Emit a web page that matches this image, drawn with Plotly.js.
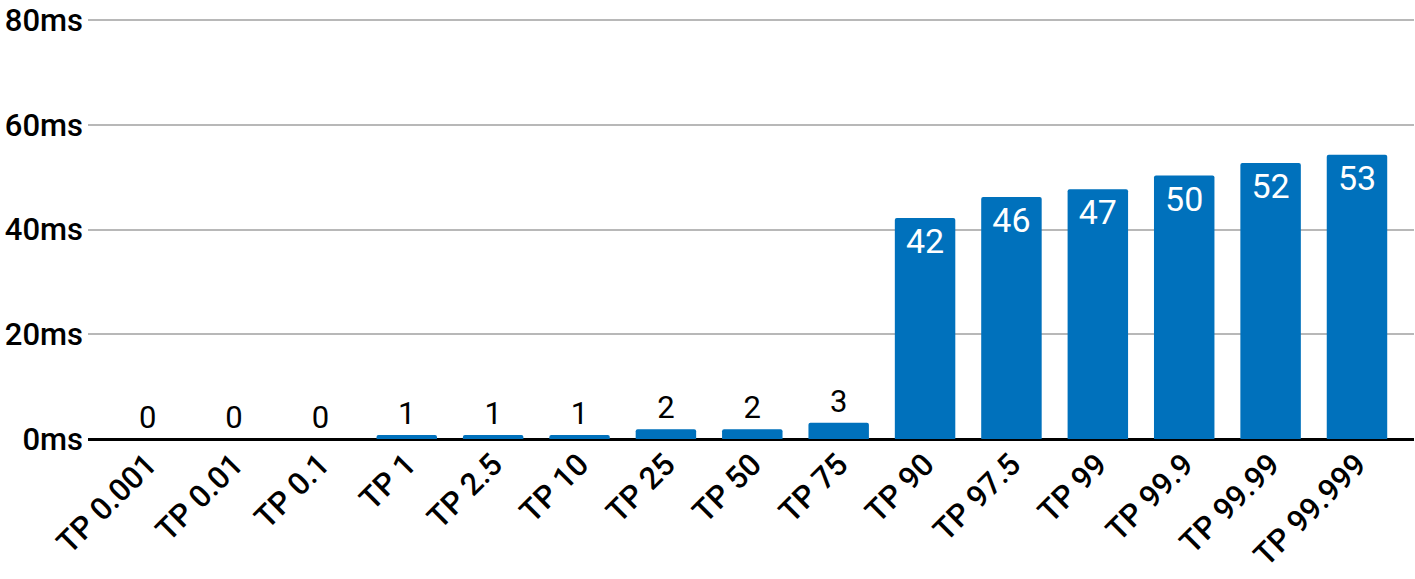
<!DOCTYPE html>
<html>
<head>
<meta charset="utf-8">
<script src="https://cdn.plot.ly/plotly-3.0.1.min.js"></script>
<style>
  html, body { margin: 0; padding: 0; background: #fff; }
  #chart { width: 1415px; height: 579px; }
</style>
</head>
<body>
<div id="chart"></div>
<script>
// percentiles on the x axis
var categories = ["TP 0.001", "TP 0.01", "TP 0.1", "TP 1", "TP 2.5", "TP 10", "TP 25",
                  "TP 50", "TP 75", "TP 90", "TP 97.5", "TP 99", "TP 99.9", "TP 99.99", "TP 99.999"];

// latency in ms (bar heights)
var latency = [0, 0, 0, 0.75, 0.75, 0.75, 1.85, 1.85, 3.1, 42.2, 46.2, 47.7, 50.3, 52.7, 54.3];

// printed labels above / inside the bars
var barLabels = ["0", "0", "0", "1", "1", "1", "2", "2", "3", "42", "46", "47", "50", "52", "53"];

// y axis ticks
var yTicks = [0, 20, 40, 60, 80];
var yTickText = yTicks.map(function (v) { return v + "ms"; });

var fontFam = "Roboto, 'Liberation Sans', sans-serif";

// tall bars carry their label inside, short ones above
var positions = latency.map(function (v) { return v > 10 ? "inside" : "outside"; });

var data = [
    {
        type: "bar",
        x: categories,
        y: latency,
        text: barLabels,
        texttemplate: "%{text}",
        textposition: positions,
        insidetextanchor: "end",
        constraintext: "none",
        cliponaxis: false,
        insidetextfont: { family: fontFam, size: 34, color: "#ffffff" },
        outsidetextfont: { family: fontFam, size: 31, color: "#000000" },
        marker: { color: "#0071bc" },
        hoverinfo: "x+y"
    }
];

var layout = {
    width: 1415,
    height: 579,
    margin: { l: 88, r: 1, t: 18, b: 140 },
    paper_bgcolor: "#ffffff",
    plot_bgcolor: "#ffffff",
    showlegend: false,
    bargap: 0.3,
    barcornerradius: 2,
    font: { family: fontFam, color: "#000000" },
    xaxis: {
        type: "category",
        range: [-0.69, 14.66],
        tickangle: -45,
        tickfont: { family: fontFam, size: 31, color: "#000000", weight: 500 },
        showgrid: false,
        showline: false,
        ticks: "",
        fixedrange: true
    },
    yaxis: {
        range: [0, 80.4],
        tickmode: "array",
        tickvals: yTicks,
        ticktext: yTickText,
        tickfont: { family: fontFam, size: 31, color: "#000000", weight: 500 },
        showgrid: true,
        gridcolor: "#b8b8b8",
        gridwidth: 2,
        zeroline: true,
        zerolinecolor: "#000000",
        zerolinewidth: 3,
        showline: false,
        ticks: "",
        ticklabelstandoff: 4,
        fixedrange: true
    }
};

Plotly.newPlot("chart", data, layout, { displayModeBar: false, staticPlot: true });
</script>
</body>
</html>
